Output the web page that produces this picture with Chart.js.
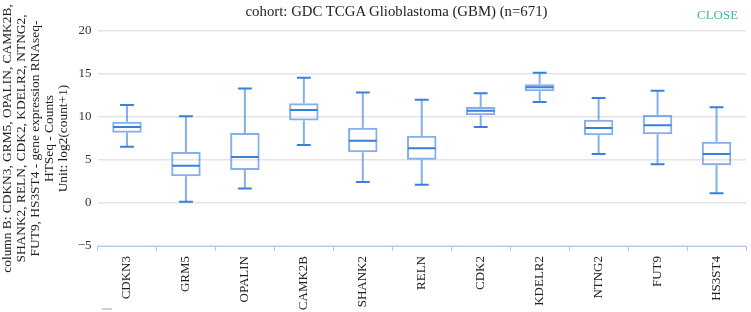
<!DOCTYPE html>
<html>
<head>
<meta charset="utf-8">
<title>GBM box plot</title>
<script src="https://cdn.jsdelivr.net/npm/chart.js@4.4.1/dist/chart.umd.min.js"></script>
<style>
  body { margin: 0; background: #fff; }
  #kutu { position: relative; width: 751px; height: 312px; }
  #baslik { position: absolute; top: 3px; left: 0; width: 793px; text-align: center; font: 14.8px "Liberation Serif", serif; color: #222; }
  #kapat { position: absolute; top: 7px; left: 697px; font: 13px "Liberation Serif", serif; color: #3fb8a4; }
  #altCizgi { position: absolute; top: 308px; left: 102px; width: 10px; height: 2px; background: #d0d0d0; }
</style>
</head>
<body>
<div id="kutu">
  <canvas id="boxChart" width="751" height="312"></canvas>
  <div id="baslik">cohort: GDC TCGA Glioblastoma (GBM) (n=671)</div>
  <div id="kapat">CLOSE</div>
  <div id="altCizgi"></div>
</div>
<script>
/*VERİLER*/
var genler = ['CDKN3','GRM5','OPALIN','CAMK2B','SHANK2','RELN','CDK2','KDELR2','NTNG2','FUT9','HS3ST4'];
var enAltlar = [6.55, 0.15, 1.7, 6.74, 2.44, 2.13, 8.84, 11.74, 5.7, 4.5, 1.13];
var ceyrek1 = [8.18, 3.1, 3.84, 9.6, 5.9, 5.04, 10.19, 12.98, 7.87, 7.98, 4.38];
var medyanlar = [8.84, 4.34, 5.35, 10.81, 7.25, 6.36, 10.74, 13.45, 8.72, 9.03, 5.7];
var ceyrek3 = [9.45, 5.93, 8.14, 11.59, 8.76, 7.83, 11.16, 13.8, 9.69, 10.23, 7.13];
var enUstler = [11.4, 10.1, 13.3, 14.57, 12.85, 12.02, 12.75, 15.15, 12.21, 13.06, 11.12];
var eksenBasligi = [
  'column B: CDKN3, GRM5, OPALIN, CAMK2B,',
  'SHANK2, RELN, CDK2, KDELR2, NTNG2,',
  'FUT9, HS3ST4 - gene expression RNAseq-',
  'HTSeq - Counts',
  'Unit: log2(count+1)'
];
/*VERİLER*/

var kutular = [];
for (var i = 0; i < genler.length; i++) {
  kutular.push([ceyrek1[i], ceyrek3[i]]);
}

var yaziTipi = '"Liberation Serif", "Times New Roman", serif';

// biyik + medyan cizimi (kutular bar olarak geliyor)
var biyikPlugin = {
  id: 'biyikler',
  afterDatasetsDraw: function (chart) {
    var ctx = chart.ctx;
    var y = chart.scales.y;
    var meta = chart.getDatasetMeta(0);
    ctx.save();
    for (var i = 0; i < meta.data.length; i++) {
      var bar = meta.data[i];
      var x = bar.x;
      var yarim = bar.width / 2;
      var capYarim = yarim * 0.47;

      ctx.strokeStyle = 'rgba(58,126,224,0.62)';
      ctx.lineWidth = 2;
      ctx.beginPath();
      ctx.moveTo(x, y.getPixelForValue(ceyrek3[i]));
      ctx.lineTo(x, y.getPixelForValue(enUstler[i]));
      ctx.moveTo(x, y.getPixelForValue(ceyrek1[i]));
      ctx.lineTo(x, y.getPixelForValue(enAltlar[i]));
      ctx.stroke();

      ctx.strokeStyle = '#3a7ee0';
      ctx.lineWidth = 2;
      ctx.beginPath();
      ctx.moveTo(x - capYarim, y.getPixelForValue(enUstler[i]));
      ctx.lineTo(x + capYarim, y.getPixelForValue(enUstler[i]));
      ctx.moveTo(x - capYarim, y.getPixelForValue(enAltlar[i]));
      ctx.lineTo(x + capYarim, y.getPixelForValue(enAltlar[i]));
      ctx.moveTo(x - yarim + 1, y.getPixelForValue(medyanlar[i]));
      ctx.lineTo(x + yarim - 1, y.getPixelForValue(medyanlar[i]));
      ctx.stroke();
    }
    ctx.restore();
  }
};

var ctx = document.getElementById('boxChart');
var myChart = new Chart(ctx, {
  type: 'bar',
  data: {
    labels: genler,
    datasets: [{
      label: 'kutu',
      data: kutular,
      backgroundColor: 'rgba(255,255,255,0)',
      borderColor: 'rgba(58,126,224,0.62)',
      borderWidth: 2,
      borderSkipped: false,
      barPercentage: 0.5,
      categoryPercentage: 1
    }]
  },
  options: {
    responsive: false,
    animation: false,
    devicePixelRatio: 1,
    layout: { padding: { top: 31, right: 5, bottom: 0, left: 0 } },
    plugins: {
      legend: { display: false },
      tooltip: { enabled: false }
    },
    scales: {
      x: {
        grid: { offset: true, drawOnChartArea: false, drawTicks: true, tickLength: 5, color: '#b3c9e8' },
        border: { display: true, color: '#b3c9e8', width: 1 },
        ticks: {
          minRotation: 90, maxRotation: 90, autoSkip: false, padding: 5,
          color: '#222', font: { family: yaziTipi, size: 13 }
        },
        afterFit: function (scale) { scale.height = 66; }
      },
      y: {
        min: -5,
        max: 20,
        grid: { color: '#e4e4e4', lineWidth: 1.5, drawTicks: false },
        border: { display: false },
        ticks: {
          stepSize: 5, padding: 6, color: '#333',
          font: { family: yaziTipi, size: 13 },
          callback: function (v) { return v < 0 ? '\u2212' + Math.abs(v) : v; }
        },
        title: {
          display: true,
          text: eksenBasligi,
          color: '#222',
          padding: { top: 1, bottom: 0 },
          font: { family: yaziTipi, size: 13.4, lineHeight: 1.03 }
        },
        afterFit: function (scale) { scale.width = 97.5; }
      }
    }
  },
  plugins: [biyikPlugin]
});
</script>
</body>
</html>
